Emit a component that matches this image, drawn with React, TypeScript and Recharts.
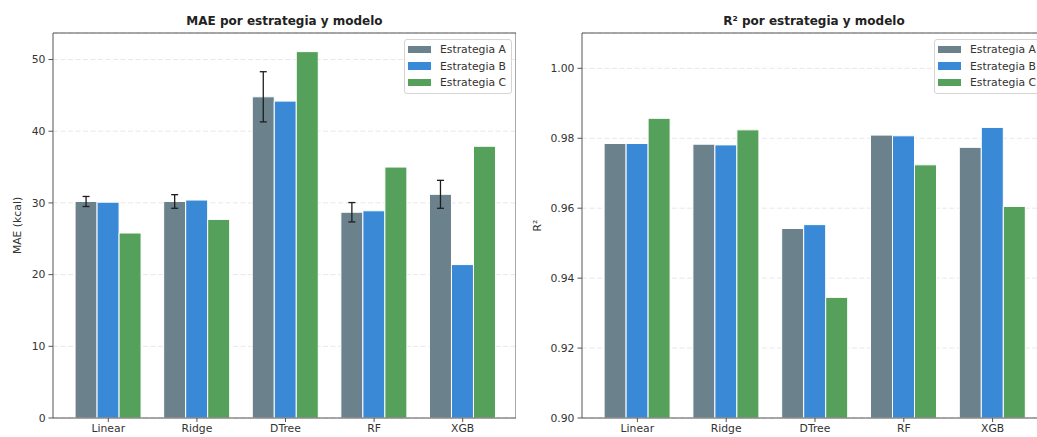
import { BarChart, Bar, XAxis, YAxis, CartesianGrid, ErrorBar, Legend, Label } from 'recharts';

const models = ['Linear', 'Ridge', 'DTree', 'RF', 'XGB'];
const strategies = ['Estrategia A', 'Estrategia B', 'Estrategia C'];
const colors = ['#6b818c', '#3a89d6', '#55a05a'];

// MAE (kcal) por modelo
const maeA = [30.2, 30.2, 44.8, 28.7, 31.2];
const maeB = [30.1, 30.4, 44.2, 28.9, 21.4];
const maeC = [25.8, 27.7, 51.1, 35.0, 37.9];
const maeErrA = [0.7, 0.95, 3.5, 1.35, 1.95];
const maeTicks = [0, 10, 20, 30, 40, 50];

// R² por modelo
const r2A = [0.9785, 0.9783, 0.9542, 0.9809, 0.9774];
const r2B = [0.9785, 0.9781, 0.9553, 0.9807, 0.9831];
const r2C = [0.9857, 0.9824, 0.9345, 0.9724, 0.9605];
const r2Ticks = [0.9, 0.92, 0.94, 0.96, 0.98, 1.0];

const maeRows = models.map((model, i) => ({ model, a: maeA[i], b: maeB[i], c: maeC[i], errA: maeErrA[i] }));
const r2Rows = models.map((model, i) => ({ model, a: r2A[i], b: r2B[i], c: r2C[i] }));

const FONT = '"DejaVu Sans", sans-serif';
const SPINE = '#555';
const TEXT = '#333';
const tickStyle = { fill: TEXT, fontSize: 10.8, fontFamily: FONT };

const LegendBox = ({ payload }: any) => (
  <div
    style={{
      width: 108,
      boxSizing: 'border-box',
      border: '1px solid #d4d4d4',
      borderRadius: 3,
      background: 'rgba(255,255,255,0.85)',
      padding: '1px 0 2px 3px',
      fontFamily: FONT,
      fontSize: 10.8,
      color: TEXT,
      whiteSpace: 'nowrap',
    }}
  >
    {(payload || []).map((p: any) => (
      <div key={p.value} style={{ display: 'flex', alignItems: 'center', height: 16.7 }}>
        <span style={{ display: 'inline-block', width: 23, height: 7.5, background: p.color, marginRight: 9 }} />
        {p.value}
      </div>
    ))}
  </div>
);

const yTitle = (text: string) => (props: any) => {
  const vb = props.viewBox || { x: 0, y: 0, height: 0 };
  const cx = vb.x + 17;
  const cy = vb.y + vb.height / 2;
  return (
    <text
      x={cx}
      y={cy}
      transform={`rotate(-90 ${cx} ${cy})`}
      textAnchor="middle"
      dominantBaseline="central"
      fontSize={10.8}
      fontFamily={FONT}
      fill={TEXT}
    >
      {text}
    </text>
  );
};

// top and right spines of the plot box
const topSpine = ({ offset }: any) => [offset.top];
const rightSpine = ({ offset }: any) => [offset.left + offset.width];

interface PanelProps {
  rows: any[];
  domain: [number, number];
  ticks: number[];
  yLabel: string;
  yWidth: number;
  width: number;
  legendLeft: number;
  format: (v: number) => string;
  withError?: boolean;
}

function Panel({ rows, domain, ticks, yLabel, yWidth, width, legendLeft, format, withError }: PanelProps) {
  return (
    <BarChart
      width={width}
      height={437}
      data={rows}
      margin={{ top: 33, right: 0, left: 0, bottom: 0 }}
      barCategoryGap="12.5%"
      barGap={0}
    >
      <CartesianGrid vertical={false} stroke="#e8e8e8" strokeDasharray="5 2.5" />
      <CartesianGrid
        stroke={SPINE}
        horizontalCoordinatesGenerator={topSpine}
        verticalCoordinatesGenerator={rightSpine}
      />
      <XAxis
        dataKey="model"
        interval={0}
        height={19}
        padding={{ left: 11, right: 9 }}
        tick={tickStyle}
        tickSize={4}
        tickMargin={2}
        axisLine={{ stroke: SPINE }}
        tickLine={{ stroke: SPINE }}
      />
      <YAxis
        type="number"
        domain={domain}
        ticks={ticks}
        allowDataOverflow
        width={yWidth}
        tick={tickStyle}
        tickSize={4.5}
        tickMargin={3}
        tickFormatter={format}
        axisLine={{ stroke: SPINE }}
        tickLine={{ stroke: SPINE }}
      >
        <Label content={yTitle(yLabel)} />
      </YAxis>
      <Legend
        layout="horizontal"
        verticalAlign="middle"
        align="center"
        content={<LegendBox />}
        wrapperStyle={{ left: legendLeft, top: 39, width: 'auto', height: 'auto' }}
      />
      <Bar dataKey="a" name={strategies[0]} fill={colors[0]} stroke="#fff" strokeWidth={1} isAnimationActive={false}>
        {withError && <ErrorBar dataKey="errA" direction="y" width={3.5} stroke="#1e1e1e" strokeWidth={1.3} />}
      </Bar>
      <Bar dataKey="b" name={strategies[1]} fill={colors[1]} stroke="#fff" strokeWidth={1} isAnimationActive={false} />
      <Bar dataKey="c" name={strategies[2]} fill={colors[2]} stroke="#fff" strokeWidth={1} isAnimationActive={false} />
    </BarChart>
  );
}

const titleStyle = {
  position: 'absolute' as const,
  top: 13,
  lineHeight: '16px',
  textAlign: 'center' as const,
  fontWeight: 'bold' as const,
  fontSize: 12,
  color: '#222',
  fontFamily: FONT,
};

export default function App() {
  return (
    <div
      style={{
        position: 'fixed',
        left: 0,
        top: 0,
        width: 1037,
        height: 437,
        overflow: 'hidden',
        background: '#fff',
        fontFamily: FONT,
      }}
    >
      <div style={{ position: 'absolute', left: 0, top: 0 }}>
        <Panel
          rows={maeRows}
          domain={[0, 53.7]}
          ticks={maeTicks}
          yLabel="MAE (kcal)"
          yWidth={53}
          width={516}
          legendLeft={404}
          format={(v) => String(v)}
          withError
        />
      </div>
      <div style={{ position: 'absolute', left: 520, top: 0 }}>
        <Panel
          rows={r2Rows}
          domain={[0.9, 1.0101]}
          ticks={r2Ticks}
          yLabel="R²"
          yWidth={62}
          width={526}
          legendLeft={414}
          format={(v) => v.toFixed(2)}
        />
      </div>
      <div style={{ ...titleStyle, left: 53, width: 463 }}>MAE por estrategia y modelo</div>
      <div style={{ ...titleStyle, left: 582, width: 464 }}>R² por estrategia y modelo</div>
    </div>
  );
}
